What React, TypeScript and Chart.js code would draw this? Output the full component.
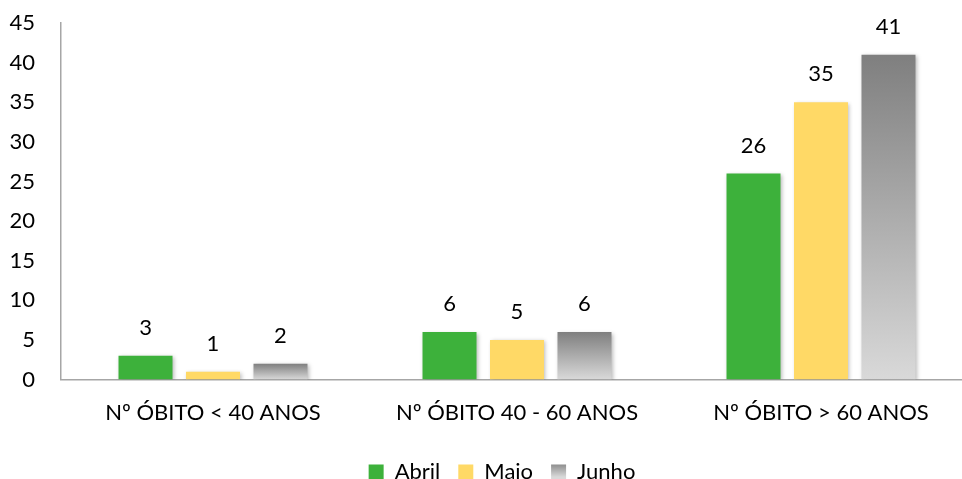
import React, { useEffect, useRef } from "react";
import { Chart, registerables } from "chart.js";

Chart.register(...registerables);

const categories = ["Nº ÓBITO < 40 ANOS", "Nº ÓBITO 40 - 60 ANOS", "Nº ÓBITO > 60 ANOS"];
const abril = [3, 6, 26];
const maio = [1, 5, 35];
const junho = [2, 6, 41];
const yTicks = [0, 5, 10, 15, 20, 25, 30, 35, 40, 45];

const FONT = "Lato, 'Open Sans', sans-serif";
const FS = 22;
const LEGEND_DX = 15.5;
const LEGEND_DY = -3;

const grayGradient = (ctx: any) => {
  const chart = ctx.chart;
  const area = chart.chartArea;
  if (!area || ctx.type !== "data") return "#a6a6a6";
  const y = chart.scales.y;
  const top = y.getPixelForValue(ctx.raw);
  const bottom = y.getPixelForValue(0);
  const g = chart.ctx.createLinearGradient(0, top, 0, bottom);
  g.addColorStop(0, "#7f7f7f");
  g.addColorStop(1, "#d9d9d9");
  return g;
};

const shadowPlugin = {
  id: "barShadow",
  beforeDatasetsDraw(chart: any) {
    const c = chart.ctx;
    c.save();
    c.shadowColor = "rgba(0,0,0,0.28)";
    c.shadowBlur = 4;
    c.shadowOffsetX = 1.5;
    c.shadowOffsetY = 1.5;
  },
  afterDatasetsDraw(chart: any) {
    chart.ctx.restore();
  },
};

const legendShift = {
  id: "legendShift",
  afterLayout(chart: any) {
    const l = chart.legend;
    if (!l) return;
    l.left += LEGEND_DX;
    l.right += LEGEND_DX;
    l.top += LEGEND_DY;
    l.bottom += LEGEND_DY;
  },
};

const labelPlugin = {
  id: "valueLabels",
  afterDatasetsDraw(chart: any) {
    const c = chart.ctx;
    c.save();
    c.font = `${FS}px ${FONT}`;
    c.fillStyle = "#000";
    c.textAlign = "center";
    c.textBaseline = "bottom";
    chart.data.datasets.forEach((ds: any, di: number) => {
      const meta = chart.getDatasetMeta(di);
      meta.data.forEach((bar: any, i: number) => {
        c.fillText(String(ds.data[i]), bar.x, bar.y - 17);
      });
    });
    c.restore();
  },
};

export default function App() {
  const ref = useRef<HTMLCanvasElement>(null);
  useEffect(() => {
    document.body.style.margin = "0";
    const chart = new Chart(ref.current!, {
      type: "bar",
      data: {
        labels: categories,
        datasets: [
          { label: "Abril", data: abril, backgroundColor: "#3db13b" },
          { label: "Maio", data: maio, backgroundColor: "#ffd966" },
          { label: "Junho", data: junho, backgroundColor: grayGradient as any },
        ],
      },
      options: {
        animation: false,
        responsive: false,
        maintainAspectRatio: false,
        events: [],
        layout: { padding: { left: 0, right: 31, top: 0, bottom: -17 } },
        datasets: { bar: { categoryPercentage: 0.666, barPercentage: 0.8 } },
        scales: {
          x: {
            grid: { display: false, drawTicks: false },
            border: { display: true, color: "#a6a6a6", width: 1.5 },
            ticks: { color: "#000", font: { family: FONT, size: FS }, padding: 20 },
          },
          y: {
            min: 0,
            max: 45,
            afterBuildTicks: (s: any) => {
              s.ticks = yTicks.map((v) => ({ value: v }));
            },
            afterFit: (s: any) => {
              s.width = 61;
              s.paddingTop = 23;
              s.paddingBottom = 0;
            },
            grid: { display: false, drawTicks: false },
            border: { display: true, color: "#a6a6a6", width: 1.5 },
            ticks: { color: "#000", font: { family: FONT, size: FS }, padding: 26 },
          },
        },
        plugins: {
          tooltip: { enabled: false },
          legend: {
            position: "bottom",
            labels: {
              font: { family: FONT, size: FS },
              color: "#000",
              boxWidth: 15,
              boxHeight: 15,
              padding: 18,
              generateLabels: (ch: any) => {
                const items = Chart.defaults.plugins.legend.labels.generateLabels(ch);
                items.forEach((it: any) => {
                  it.lineWidth = 0;
                  it.strokeStyle = "rgba(0,0,0,0)";
                  if (it.text === "Junho") {
                    const g = ch.ctx.createLinearGradient(0, 462, 0, 477);
                    g.addColorStop(0, "#7f7f7f");
                    g.addColorStop(1, "#d9d9d9");
                    it.fillStyle = g;
                  }
                });
                return items;
              },
            },
          },
        },
      },
      plugins: [shadowPlugin, labelPlugin, legendShift],
    });
    return () => chart.destroy();
  }, []);
  return (
    <div style={{ width: 962, height: 479, overflow: "hidden" }}>
      <canvas ref={ref} width={1004} height={479} style={{ display: "block" }} />
    </div>
  );
}
